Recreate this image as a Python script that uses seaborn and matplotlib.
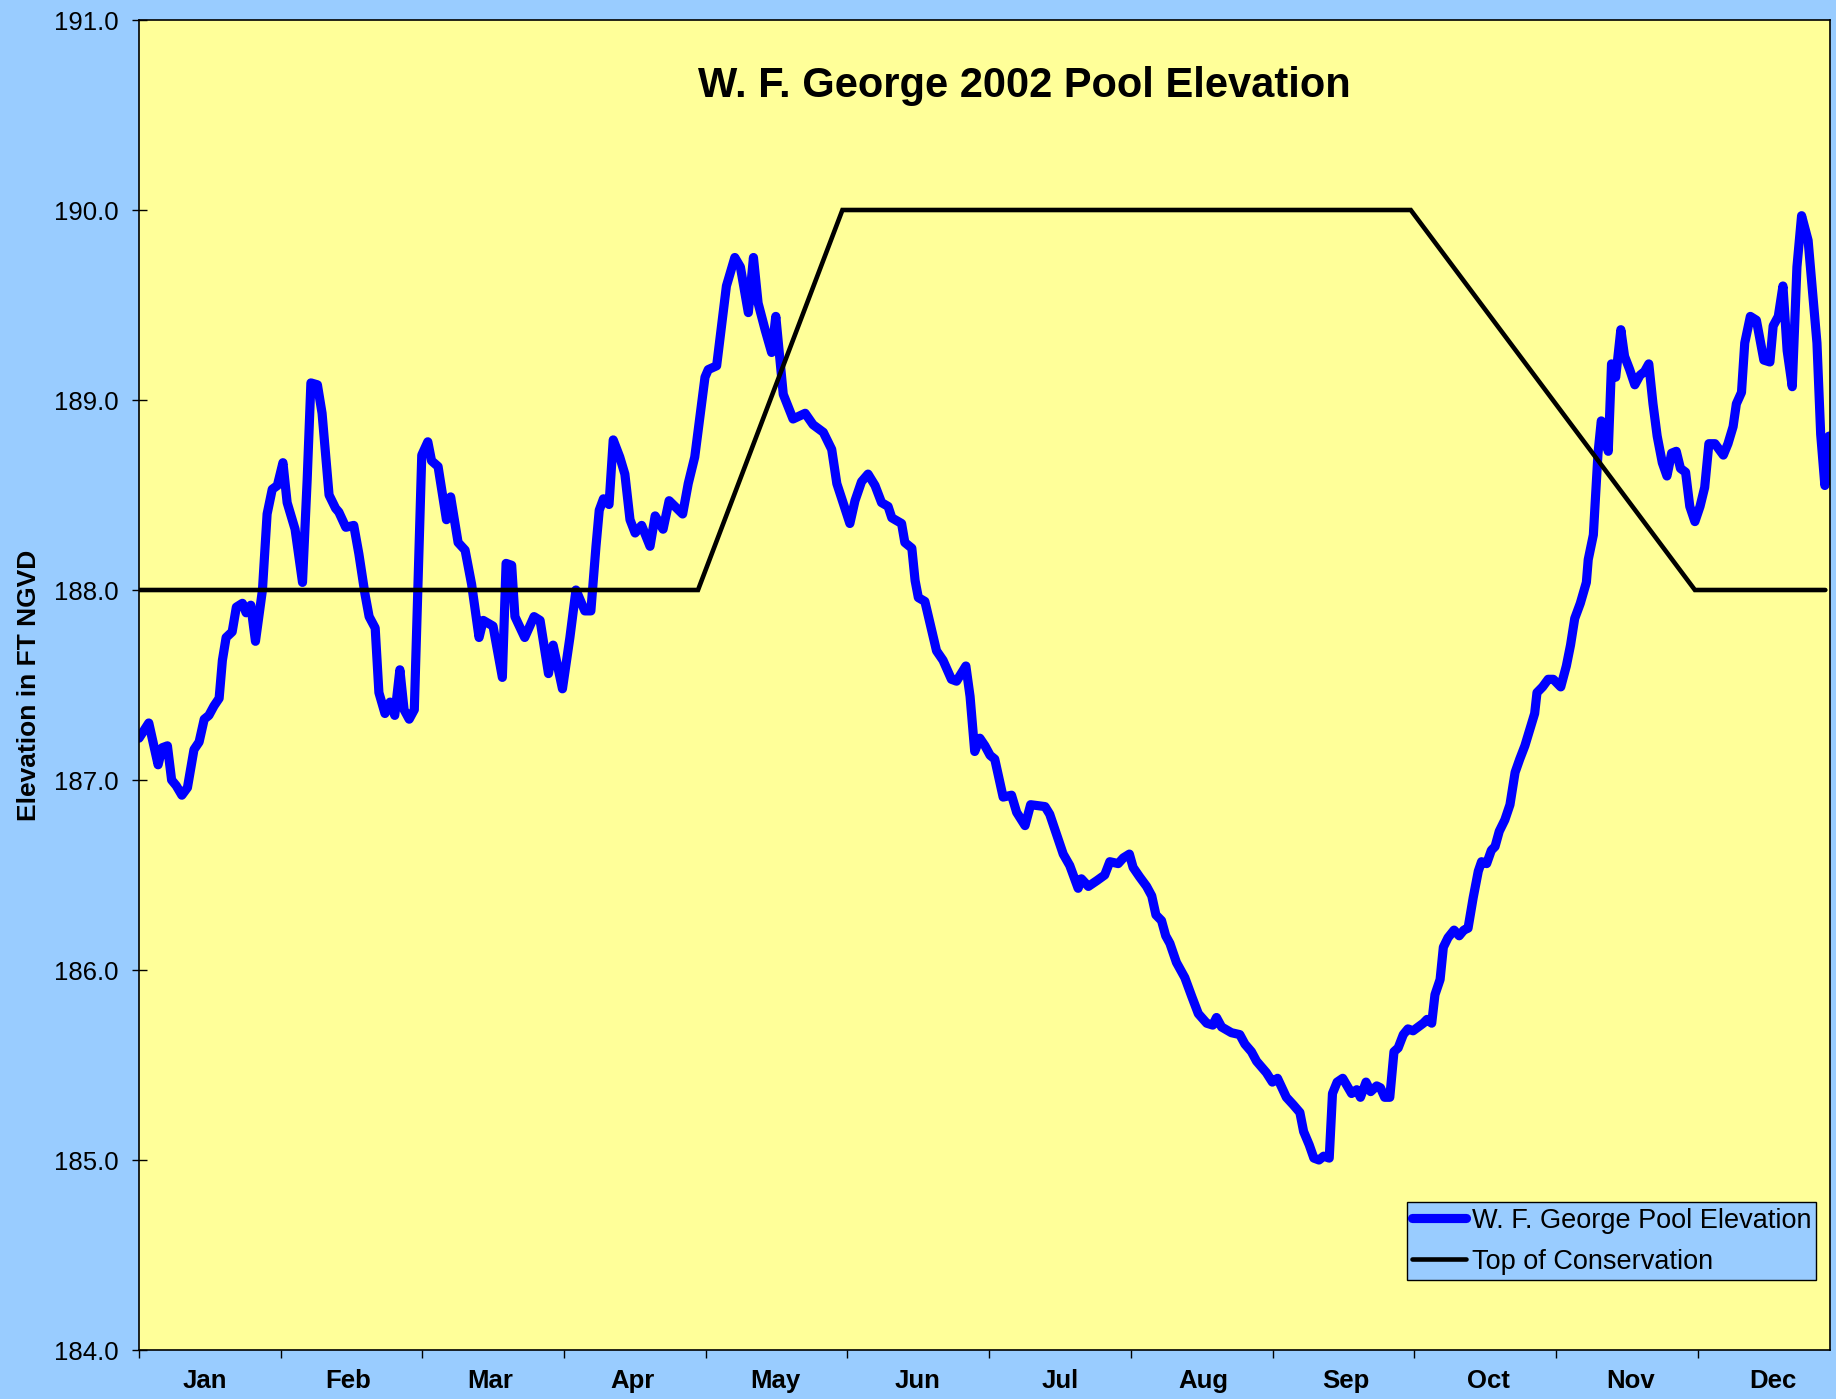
import matplotlib
matplotlib.use("Agg")
import numpy as np
import pandas as pd
import matplotlib.pyplot as plt
import seaborn as sns

# ---------------- data ----------------
chart_title = "W. F. George 2002 Pool Elevation"
y_label = "Elevation in FT NGVD"
pool_name = "W. F. George Pool Elevation"
rule_name = "Top of Conservation"
month_labels = ["Jan", "Feb", "Mar", "Apr", "May", "Jun",
                "Jul", "Aug", "Sep", "Oct", "Nov", "Dec"]
y_tick_values = [184.0, 185.0, 186.0, 187.0, 188.0, 189.0, 190.0, 191.0]

# day of year (0 = Jan 1)
pool_day = [
    0.0, 2.1, 3.2, 4.1, 5.0, 6.1, 7.0, 8.0, 9.2, 10.4, 11.8, 12.9, 14.0, 15.0, 16.1, 17.2,
    17.9, 18.7, 20.0, 20.9, 22.2, 23.0, 24.0, 25.0, 26.5, 27.5, 28.6, 29.7, 30.9, 31.8, 33.5,
    35.1, 36.1, 36.9, 38.3, 39.3, 40.8, 42.2, 42.9, 44.4, 46.1, 47.2, 48.5, 49.4, 50.7, 51.5, 52.8,
    53.9, 54.9, 56.0, 56.9, 58.0, 59.1, 60.7, 62.0, 62.8, 64.2, 66.0, 66.9, 68.5, 70.0, 71.4,
    73.0, 73.9, 76.0, 78.0, 78.8, 80.0, 80.7, 82.8, 84.8, 86.1, 87.9, 88.9, 90.9, 92.5, 93.8,
    95.7, 97.0, 98.1, 98.8, 99.7, 100.9, 101.8, 103.2, 104.3, 105.4,
    106.5, 107.9, 109.7, 110.8, 112.5, 113.8, 116.7, 117.9, 119.3, 121.5, 122.2, 124.0, 124.7,
    126.1, 127.9, 129.1, 130.8, 131.9, 132.9, 134.4, 135.8, 136.7, 138.3, 140.4, 143.0, 144.7,
    146.9, 148.7, 149.8, 152.6, 153.7, 155.1, 156.5,
    158.0, 159.4, 160.8, 161.6, 163.7, 164.4, 165.9, 166.6, 167.3, 168.7, 171.2, 172.6, 174.4,
    175.5, 177.5, 178.4, 179.4, 180.5, 181.6, 182.7, 183.7, 185.5, 187.3, 188.4, 190.2, 191.4,
    194.5, 195.5, 198.4, 199.8, 201.6, 202.3, 203.8, 205.6,
    207.3, 208.4, 210.2, 211.3, 212.6, 213.4, 214.8, 216.3, 217.4, 218.3, 219.5, 220.4, 221.3,
    222.7, 224.5, 226.0, 227.4, 229.2, 230.5, 231.3, 232.4, 234.5, 236.3, 237.4, 238.8, 239.9,
    242.0, 243.3, 244.4, 246.3, 247.8, 249.2, 250.0, 251.2, 252.2, 253.3, 254.3, 255.5, 256.2,
    257.2, 258.4,
    260.3, 261.4, 262.2, 263.4, 264.4, 265.7, 266.5, 267.4, 268.5, 269.4, 270.3, 271.4, 272.4,
    273.5, 274.6, 275.7, 276.5, 277.5, 278.2, 279.3, 280.0, 281.0, 282.3, 283.4, 284.4, 285.3,
    286.4, 287.5, 288.2, 289.3, 290.3, 291.1, 292.0, 293.2, 294.3, 295.4, 296.4, 297.5, 298.6,
    299.6, 300.1, 301.3, 302.5, 303.6, 305.2, 306.4, 307.3, 308.2, 309.4, 310.7, 311.1, 312.2,
    313.2, 313.9, 314.7, 315.4, 316.1, 317.0, 318.1, 318.9, 320.0, 321.1, 322.2, 323.2, 324.1,
    325.0, 325.9, 327.0, 328.0, 329.0, 330.0, 330.9, 332.0, 332.9, 334.0, 335.1, 336.1, 337.0,
    338.3, 340.1, 341.1, 342.2, 342.9, 344.0, 344.7, 345.9, 347.2, 348.8, 350.1, 350.8, 351.9,
    352.9, 353.8, 354.9, 355.9, 356.9, 358.3, 360.2, 361.0, 361.9, 362.8,
]

pool_elev = [
    187.22, 187.30, 187.18, 187.08, 187.17, 187.18, 187.00, 186.97, 186.92, 186.96, 187.16,
    187.20, 187.32, 187.34, 187.39, 187.43, 187.63, 187.75, 187.78, 187.91, 187.93, 187.88,
    187.92, 187.73, 188.00, 188.40, 188.53, 188.55, 188.67, 188.46, 188.32, 188.04, 188.58,
    189.09, 189.08, 188.93, 188.50, 188.43, 188.41, 188.33, 188.34, 188.19, 187.98, 187.86,
    187.80, 187.46, 187.35,
    187.41, 187.34, 187.58, 187.37, 187.32, 187.37, 188.71, 188.78, 188.68, 188.65, 188.37,
    188.49, 188.25, 188.21, 188.03, 187.75, 187.84, 187.81, 187.54, 188.14, 188.13, 187.86,
    187.75, 187.86, 187.84, 187.56, 187.71, 187.48, 187.75, 188.00, 187.89, 187.89, 188.23,
    188.42, 188.48, 188.45, 188.79, 188.70, 188.61, 188.37,
    188.30, 188.34, 188.23, 188.39, 188.32, 188.47, 188.40, 188.56, 188.70, 189.12, 189.16,
    189.18, 189.32, 189.60, 189.75, 189.70, 189.46, 189.75, 189.51, 189.37, 189.25, 189.44,
    189.03, 188.90, 188.93, 188.87, 188.83, 188.74, 188.56, 188.35, 188.47, 188.57, 188.61,
    188.55, 188.46, 188.44, 188.38, 188.35, 188.25, 188.22, 188.05, 187.96, 187.94, 187.68,
    187.63, 187.53, 187.52, 187.60, 187.44, 187.15, 187.22, 187.18, 187.13, 187.11, 186.91,
    186.92, 186.83, 186.76, 186.87, 186.86, 186.82, 186.61, 186.55, 186.43, 186.48, 186.44,
    186.47,
    186.50, 186.57, 186.56, 186.59, 186.61, 186.54, 186.49, 186.44, 186.39, 186.29, 186.26,
    186.18, 186.14, 186.04, 185.96, 185.86, 185.77, 185.72, 185.71, 185.75, 185.70, 185.67,
    185.66, 185.61, 185.57, 185.52, 185.46, 185.41, 185.43, 185.33, 185.29, 185.25, 185.15,
    185.08, 185.01, 185.00, 185.02, 185.01, 185.35, 185.41, 185.43,
    185.35, 185.37, 185.33, 185.41, 185.36, 185.39, 185.38, 185.33, 185.33, 185.57, 185.59,
    185.66, 185.69, 185.68, 185.70, 185.72, 185.74, 185.72, 185.87, 185.95, 186.12, 186.17,
    186.21, 186.18, 186.21, 186.22, 186.38, 186.52, 186.57, 186.56, 186.63, 186.65, 186.73,
    186.79, 186.87, 187.04, 187.11, 187.18, 187.27, 187.35, 187.46, 187.49, 187.53, 187.53,
    187.49, 187.60, 187.71, 187.85, 187.93, 188.04, 188.16, 188.29,
    188.72, 188.89, 188.82, 188.73, 189.19, 189.12, 189.37, 189.23, 189.16, 189.08, 189.13,
    189.15, 189.19, 188.98, 188.81, 188.67, 188.60, 188.72, 188.73, 188.64, 188.62, 188.44,
    188.36, 188.44, 188.54, 188.77, 188.77, 188.71, 188.77, 188.86, 188.98, 189.04, 189.30,
    189.44, 189.42, 189.21, 189.20, 189.39, 189.44, 189.60, 189.26, 189.07, 189.70, 189.97,
    189.84, 189.30, 188.82, 188.55, 188.81,
]

rule_day = [0, 120, 151, 273, 334, 362]
rule_elev = [188.0, 188.0, 190.0, 190.0, 188.0, 188.0]

# ---------------- style ----------------
sns.set_theme(style="white")
plt.rcParams["font.family"] = ["Liberation Sans", "DejaVu Sans"]

BG = "#99CCFF"
PLOT_BG = "#FFFF99"

W, H = 1836, 1399
fig = plt.figure(figsize=(W / 100, H / 100), dpi=100, facecolor=BG)
ax = fig.add_axes([139 / W, 49 / H, 1691 / W, 1330 / H])
ax.set_facecolor(PLOT_BG)

pool_df = pd.DataFrame({"day": pool_day, "elev": pool_elev})
rule_df = pd.DataFrame({"day": rule_day, "elev": rule_elev})

sns.lineplot(data=pool_df, x="day", y="elev", color="#0000FF", linewidth=6.6,
             estimator=None, sort=False, label=pool_name, ax=ax,
             solid_joinstyle="round", solid_capstyle="round")
sns.lineplot(data=rule_df, x="day", y="elev", color="black", linewidth=3.3,
             estimator=None, sort=False, label=rule_name, ax=ax,
             solid_joinstyle="miter")

ax.set_xlim(0, 363)
ax.set_ylim(184, 191)

# x axis: month boundary ticks (major) and month labels (minor)
month_len = 365 / 12
ax.set_xticks([k * month_len for k in range(12)])
ax.set_xticklabels([])
ax.set_xticks([14.2 + 30.6 * k for k in range(12)], minor=True)
ax.set_xticklabels(month_labels, minor=True, fontsize=18.5, fontweight="bold")
ax.tick_params(axis="x", which="major", direction="out", length=5.8, width=1.0,
               color="black", bottom=True)
ax.tick_params(axis="x", which="minor", length=0, pad=13.5, bottom=True, colors="black")

# y axis
ax.set_yticks(y_tick_values)
ax.set_yticklabels([f"{v:.1f}" for v in y_tick_values], fontsize=18.5)
ax.tick_params(axis="y", which="major", direction="inout", length=10.8, width=1.0,
               color="black", pad=9, left=True, labelcolor="black")

ax.set_xlabel("")
ax.set_ylabel(y_label, fontsize=19, fontweight="bold", color="black")
ax.yaxis.set_label_coords(-0.058, 0.5)

for s in ax.spines.values():
    s.set_color("black")
    s.set_linewidth(1.2)
    s.set_visible(True)

ax.text(0.5237, 0.942, chart_title, transform=ax.transAxes, ha="center",
        va="baseline", fontsize=30, fontweight="bold", color="black")

leg = ax.legend(loc="lower right", bbox_to_anchor=(0.992, 0.0526), borderaxespad=0,
                frameon=True, fancybox=False, shadow=False, framealpha=1,
                facecolor=BG, edgecolor="black", fontsize=19.5, handlelength=2.0,
                handletextpad=0.2, borderpad=0.2, labelspacing=0.55)
leg.get_frame().set_linewidth(1.0)
for t in leg.get_texts():
    t.set_color("black")

fig.savefig("out.png", dpi=100, facecolor=BG)
